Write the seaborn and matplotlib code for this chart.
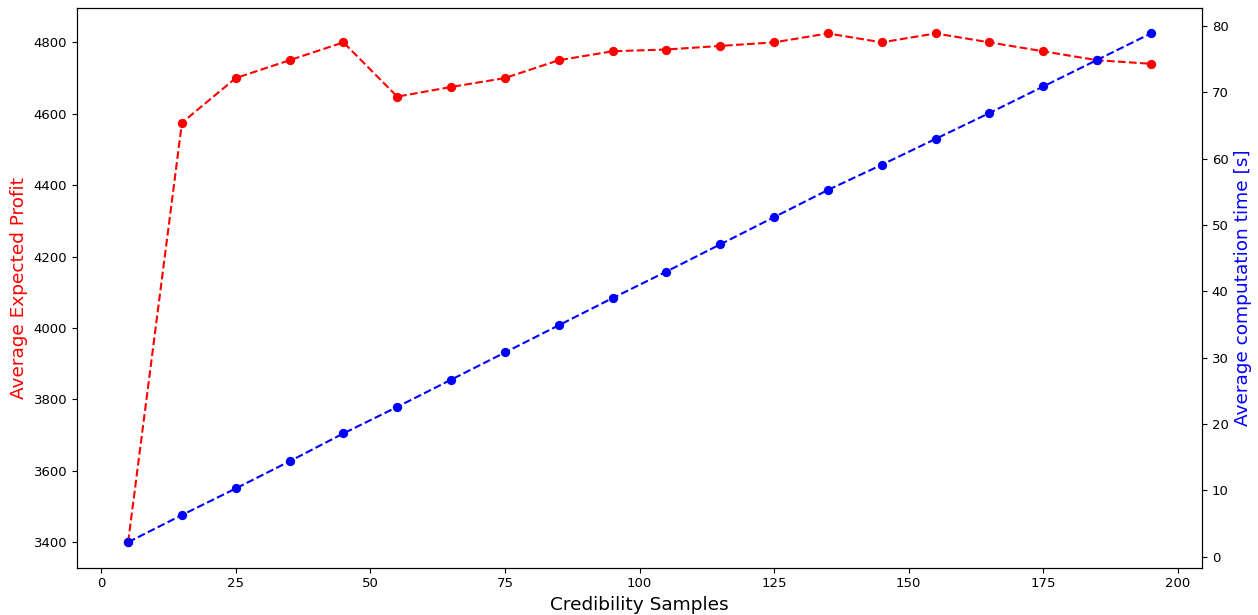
import matplotlib
matplotlib.use("Agg")
import matplotlib.pyplot as plt
import seaborn as sns
import pandas as pd

samples = [5, 15, 25, 35, 45, 55, 65, 75, 85, 95, 105, 115, 125, 135, 145, 155, 165, 175, 185, 195]
profit = [3400, 4575, 4700, 4750, 4800, 4648, 4675, 4700, 4750, 4775, 4780, 4790, 4800, 4825, 4800, 4825, 4800, 4775, 4750, 4740]
comp_time = [2.2, 6.3, 10.3, 14.4, 18.6, 22.6, 26.7, 30.8, 34.9, 39.0, 43.0, 47.1, 51.2, 55.3, 59.1, 63.0, 66.9, 70.9, 74.9, 78.9]

df = pd.DataFrame({"samples": samples, "profit": profit, "time": comp_time})

plt.rcParams["xtick.labelsize"] = 9.5
plt.rcParams["ytick.labelsize"] = 9.5

fig, ax = plt.subplots(figsize=(12.58, 6.15), dpi=100)
fig.subplots_adjust(left=0.0612, right=0.9555, top=0.987, bottom=0.077)

sns.lineplot(data=df, x="samples", y="profit", ax=ax, color="red", linestyle="--",
             marker="o", markersize=6.7, markeredgecolor="red", markeredgewidth=0)
ax2 = ax.twinx()
sns.lineplot(data=df, x="samples", y="time", ax=ax2, color="blue", linestyle="--",
             marker="o", markersize=6.7, markeredgecolor="blue", markeredgewidth=0)

ax.set_xlabel("Credibility Samples", fontsize=13.3)
ax.set_ylabel("Average Expected Profit", fontsize=13.3, color="red")
ax2.set_ylabel("Average computation time [s]", fontsize=13.3, color="blue")

plt.savefig("out.png", dpi=100)
